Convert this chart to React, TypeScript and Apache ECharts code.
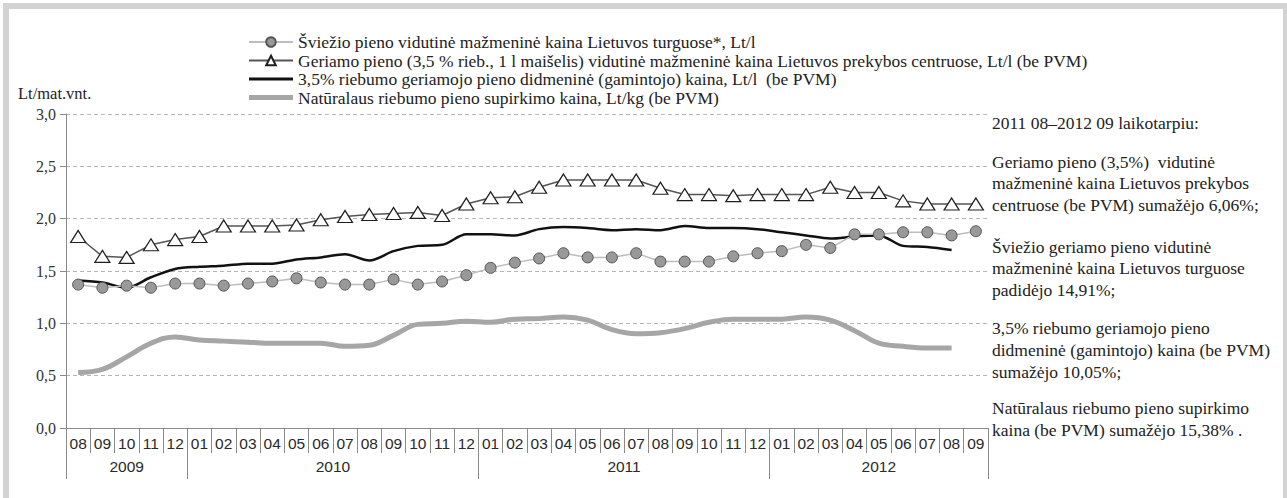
import React, { useEffect, useRef } from "react";
import * as echarts from "echarts";

const months = [
  "2009-08", "2009-09", "2009-10", "2009-11", "2009-12",
  "2010-01", "2010-02", "2010-03", "2010-04", "2010-05", "2010-06", "2010-07", "2010-08", "2010-09", "2010-10", "2010-11", "2010-12",
  "2011-01", "2011-02", "2011-03", "2011-04", "2011-05", "2011-06", "2011-07", "2011-08", "2011-09", "2011-10", "2011-11", "2011-12",
  "2012-01", "2012-02", "2012-03", "2012-04", "2012-05", "2012-06", "2012-07", "2012-08", "2012-09",
];

const sviezioTurguose = [
  1.37, 1.34, 1.36, 1.34, 1.38,
  1.38, 1.36, 1.38, 1.40, 1.43, 1.39, 1.37, 1.37, 1.42, 1.37, 1.40, 1.46,
  1.53, 1.58, 1.62, 1.67, 1.63, 1.63, 1.67, 1.59, 1.59, 1.59, 1.64, 1.67,
  1.69, 1.75, 1.72, 1.85, 1.85, 1.87, 1.87, 1.84, 1.88,
];

const geriamoPrekybos = [
  1.83, 1.64, 1.63, 1.75, 1.80,
  1.83, 1.93, 1.93, 1.93, 1.94, 1.99, 2.02, 2.04, 2.05, 2.06, 2.03, 2.14,
  2.20, 2.21, 2.30, 2.37, 2.37, 2.37, 2.37, 2.29, 2.23, 2.23, 2.22, 2.23,
  2.23, 2.23, 2.30, 2.25, 2.25, 2.17, 2.14, 2.14, 2.14,
];

const didmenine = [
  1.41, 1.39, 1.34, 1.44, 1.52,
  1.54, 1.55, 1.57, 1.57, 1.61, 1.63, 1.66, 1.60, 1.69, 1.74, 1.75, 1.85,
  1.85, 1.84, 1.90, 1.92, 1.91, 1.89, 1.90, 1.89, 1.93, 1.91, 1.91, 1.90,
  1.87, 1.84, 1.81, 1.83, 1.84, 1.74, 1.73, 1.70, null,
];

const supirkimo = [
  0.53, 0.56, 0.68, 0.81, 0.87,
  0.84, 0.83, 0.82, 0.81, 0.81, 0.81, 0.78, 0.79, 0.885, 0.99, 1.00, 1.02,
  1.01, 1.04, 1.045, 1.06, 1.03, 0.94, 0.90, 0.91, 0.95, 1.01, 1.04, 1.04,
  1.04, 1.06, 1.03, 0.93, 0.81, 0.78, 0.765, 0.765, null,
];

const seriesNames = [
  "Šviežio pieno vidutinė mažmeninė kaina Lietuvos turguose*, Lt/l",
  "Geriamo pieno (3,5 % rieb., 1 l maišelis) vidutinė mažmeninė kaina Lietuvos prekybos centruose, Lt/l (be PVM)",
  "3,5% riebumo geriamojo pieno didmeninė (gamintojo) kaina, Lt/l  (be PVM)",
  "Natūralaus riebumo pieno supirkimo kaina, Lt/kg (be PVM)",
];

const yAxisTitle = "Lt/mat.vnt.";

const notes = [
  ["2011 08–2012 09 laikotarpiu:"],
  ["Geriamo pieno (3,5%)  vidutinė", "mažmeninė kaina Lietuvos prekybos", "centruose (be PVM) sumažėjo 6,06%;"],
  ["Šviežio geriamo pieno vidutinė", "mažmeninė kaina Lietuvos turguose", "padidėjo 14,91%;"],
  ["3,5% riebumo geriamojo pieno", "didmeninė (gamintojo) kaina (be PVM)", "sumažėjo 10,05%;"],
  ["Natūralaus riebumo pieno supirkimo", "kaina (be PVM) sumažėjo 15,38% ."],
];
const noteCenters = [123, 161.7, 246.7, 328.3, 408];

const SERIF = "Liberation Serif";
const SANS = "Liberation Sans";

export default function App() {
  const ref = useRef<HTMLDivElement>(null);

  useEffect(() => {
    if (!ref.current) return;
    const chart = echarts.init(ref.current, null, { renderer: "svg" });

    const monthLabels = months.map((m) => m.slice(5));
    const years = months.map((m) => m.slice(0, 4));
    const n = months.length;
    const yearAxisData: string[] = new Array(2 * n + 1).fill("");
    const yearBoundaries = new Set<number>();
    const yearCenters = new Set<number>();
    let start = 0;
    for (let i = 1; i <= n; i++) {
      if (i === n || years[i] !== years[start]) {
        const c = start + i;
        yearAxisData[c] = years[start];
        yearCenters.add(c);
        yearBoundaries.add(2 * start);
        start = i;
      }
    }
    yearBoundaries.add(2 * n);

    const GRID_LEFT = 66;
    const GRID_RIGHT = 1287 - 988;
    const GRID_TOP = 114;
    const GRID_BOTTOM = 498 - 428;

    const graphics: any[] = [
      {
        type: "text",
        left: 18,
        top: 85,
        style: { text: yAxisTitle, fontFamily: SERIF, fontSize: 16.5, fill: "#222" },
      },
    ];
    notes.forEach((lines, k) => {
      graphics.push({
        type: "text",
        left: 992,
        top: noteCenters[k] - 10.85,
        style: {
          text: lines.join("\n"),
          fontFamily: SERIF,
          fontSize: 17.5,
          lineHeight: 21.7,
          fill: "#222",
        },
      });
    });

    const lineIcon = (h: number) => `path://M0,0L44,0L44,${h}L0,${h}Z`;

    chart.setOption({
      animation: false,
      grid: { left: GRID_LEFT, right: GRID_RIGHT, top: GRID_TOP, bottom: GRID_BOTTOM, containLabel: false },
      legend: {
        orient: "vertical",
        left: 248,
        top: 33,
        itemWidth: 44,
        itemHeight: 12,
        itemGap: 0.5,
        padding: 0,
        textStyle: { fontFamily: SERIF, fontSize: 17.5, color: "#222", lineHeight: 17 },
        data: [
          { name: seriesNames[0] },
          { name: seriesNames[1] },
          { name: seriesNames[2], icon: lineIcon(3) },
          { name: seriesNames[3], icon: lineIcon(5) },
        ],
      },
      xAxis: [
        {
          type: "category",
          data: monthLabels,
          boundaryGap: true,
          position: "bottom",
          axisLine: { show: true, lineStyle: { color: "#8a8a8a", width: 1 } },
          axisTick: { show: true, interval: 0, length: 25, lineStyle: { color: "#8a8a8a" } },
          axisLabel: { interval: 0, margin: 7, fontFamily: SANS, fontSize: 15.5, color: "#2a2a2a" },
          splitLine: { show: false },
        },
        {
          type: "category",
          data: yearAxisData,
          boundaryGap: false,
          position: "bottom",
          offset: 0,
          axisLine: { show: false },
          axisTick: {
            show: true,
            length: 51,
            interval: (idx: number) => yearBoundaries.has(idx),
            lineStyle: { color: "#8a8a8a" },
          },
          axisLabel: {
            interval: (idx: number) => yearCenters.has(idx),
            margin: 30,
            fontFamily: SANS,
            fontSize: 15.5,
            color: "#2a2a2a",
          },
          splitLine: { show: false },
        },
      ],
      yAxis: {
        type: "value",
        min: 0,
        max: 3,
        interval: 0.5,
        axisLine: { show: true, lineStyle: { color: "#8a8a8a", width: 1 } },
        axisTick: { show: true, length: 6, lineStyle: { color: "#8a8a8a" } },
        axisLabel: {
          margin: 10,
          fontFamily: SERIF,
          fontSize: 16,
          color: "#333",
          formatter: (v: number) => v.toFixed(1).replace(".", ","),
        },
        splitLine: { show: true, lineStyle: { color: "#b5b5b5", type: [4, 3], width: 1 } },
      },
      series: [
        {
          name: seriesNames[0],
          type: "line",
          data: sviezioTurguose,
          symbol: "circle",
          symbolSize: 11,
          itemStyle: { color: "#999999", borderColor: "#555", borderWidth: 1 },
          lineStyle: { color: "#bdbdbd", width: 1.5 },
          z: 4,
        },
        {
          name: seriesNames[1],
          type: "line",
          data: geriamoPrekybos,
          symbol: "triangle",
          symbolSize: [15, 12],
          itemStyle: { color: "#ffffff", borderColor: "#1e1e1e", borderWidth: 1.2 },
          lineStyle: { color: "#555555", width: 1.5 },
          z: 4,
        },
        {
          name: seriesNames[2],
          type: "line",
          data: didmenine,
          symbol: "none",
          smooth: 0.3,
          itemStyle: { color: "#111111" },
          lineStyle: { color: "#111111", width: 2.5 },
          z: 3,
        },
        {
          name: seriesNames[3],
          type: "line",
          data: supirkimo,
          symbol: "none",
          smooth: 0.4,
          itemStyle: { color: "#a6a6a6" },
          lineStyle: { color: "#a6a6a6", width: 5 },
          z: 2,
        },
      ],
      graphic: graphics,
    });

    return () => chart.dispose();
  }, []);

  return (
    <div
      style={{
        position: "fixed",
        left: 0,
        top: 0,
        width: 1287,
        height: 498,
        overflow: "hidden",
        background: "#fff",
      }}
    >
      <div
        style={{
          position: "absolute",
          left: 3,
          top: 3,
          width: 1274,
          height: 520,
          border: "6px solid #d3d3d3",
          boxSizing: "content-box",
        }}
      />
      <div ref={ref} style={{ position: "absolute", left: 0, top: 0, width: 1287, height: 498 }} />
    </div>
  );
}
